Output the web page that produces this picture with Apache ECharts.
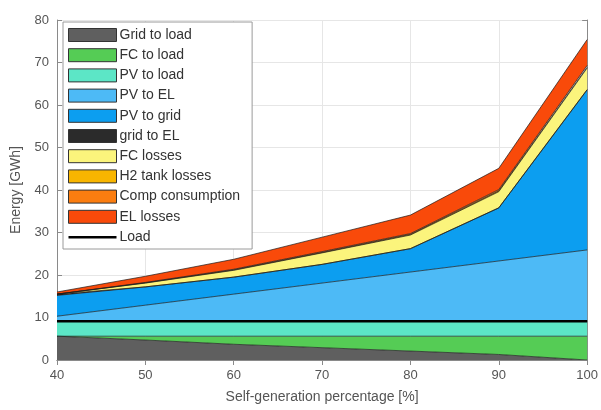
<!DOCTYPE html>
<html>
<head>
<meta charset="utf-8">
<script src="https://cdn.jsdelivr.net/npm/echarts@6/dist/echarts.min.js"></script>
<style>html,body{margin:0;padding:0;background:#fff}#c{width:601px;height:410px}</style>
</head>
<body>
<div id="c"></div>
<script>
const xValues = ['40', '50', '60', '70', '80', '90', '100'];
const gridToLoad   = [5.6, 4.7, 3.7, 2.9, 2.1, 1.3, 0.0];
const fcToLoad     = [0.0, 0.9, 1.9, 2.7, 3.5, 4.3, 5.6];
const pvToLoad     = [3.5, 3.5, 3.5, 3.5, 3.5, 3.5, 3.5];
const pvToEL       = [1.2, 3.8, 6.4, 9.0, 11.6, 14.2, 16.8];
const pvToGrid     = [4.9, 4.3, 4.0, 4.4, 5.5, 12.5, 37.7];
const gridToEL     = [0.3, 0.0, 0.0, 0.0, 0.0, 0.0, 0.0];
const fcLosses     = [0.0, 0.9, 1.6, 2.7, 3.2, 3.8, 5.1];
const h2TankLosses = [0.0, 0.05, 0.1, 0.1, 0.15, 0.2, 0.2];
const compConsumption = [0.0, 0.1, 0.15, 0.2, 0.2, 0.3, 0.4];
const elLosses     = [0.5, 1.45, 2.35, 3.4, 4.35, 5.0, 6.1];
const load         = [9.1, 9.1, 9.1, 9.1, 9.1, 9.1, 9.1];
const yTicks = [0, 10, 20, 30, 40, 50, 60, 70, 80];

const areaDefs = [
  ['Grid to load', gridToLoad, '#5f5f5f'],
  ['FC to load', fcToLoad, '#55cc55'],
  ['PV to load', pvToLoad, '#5ce6c6'],
  ['PV to EL', pvToEL, '#4dbaf6'],
  ['PV to grid', pvToGrid, '#0c9ef0'],
  ['grid to EL', gridToEL, '#2b2b2b'],
  ['FC losses', fcLosses, '#fbf47c'],
  ['H2 tank losses', h2TankLosses, '#f8b500'],
  ['Comp consumption', compConsumption, '#fb7d10'],
  ['EL losses', elLosses, '#f94a0a']
];

const series = areaDefs.map(([name, arr, color]) => ({
  name, type: 'line', stack: 'e', data: arr,
  symbol: 'none', color,
  lineStyle: { color: '#1b1b1b', width: 0.7 },
  areaStyle: { color, opacity: 1 },
  itemStyle: { color }
}));
series.push({
  name: 'Load', type: 'line', data: load, symbol: 'none',
  color: '#000', lineStyle: { color: '#000', width: 2.5 }, itemStyle: { color: '#000' }, z: 10
});

const legendData = areaDefs.map(([name]) => ({
  name, icon: 'rect', itemStyle: { borderColor: '#333', borderWidth: 1 }
}));
legendData.push({
  name: 'Load',
  icon: 'path://M0,0 L0,0 M0,5.5 L48,5.5 L48,8 L0,8 Z M48,13 L48,13',
  itemStyle: { color: '#000', borderWidth: 0 }
});

const axisCommon = {
  axisLine: { show: true, lineStyle: { color: '#8a8a8a', width: 1 } },
  axisTick: { show: true, inside: true, length: 5, lineStyle: { color: '#8a8a8a' } },
};
const chart = echarts.init(document.getElementById('c'), null, { renderer: 'canvas' });
chart.setOption({
  animation: false,
  backgroundColor: '#fff',
  grid: { left: 57, right: 13, top: 20, bottom: 50 },
  xAxis: [
    Object.assign({
      type: 'category', data: xValues, boundaryGap: false,
      name: 'Self-generation percentage [%]', nameLocation: 'middle', nameGap: 30,
      nameTextStyle: { color: '#555', fontSize: 14, fontFamily: 'Liberation Sans' },
      axisLabel: { color: '#555', fontSize: 13, fontFamily: 'Liberation Sans', margin: 9 },
      splitLine: { show: true, lineStyle: { color: '#e6e6e6' } }
    }, axisCommon),
    Object.assign({
      type: 'category', data: xValues, boundaryGap: false, position: 'top',
      axisLabel: { show: false }, splitLine: { show: false }
    }, axisCommon)
  ],
  yAxis: [
    Object.assign({
      type: 'value', min: yTicks[0], max: yTicks[yTicks.length - 1], interval: 10,
      name: 'Energy [GWh]', nameLocation: 'middle', nameGap: 34,
      nameTextStyle: { color: '#555', fontSize: 14, fontFamily: 'Liberation Sans' },
      axisLabel: { color: '#555', fontSize: 13, fontFamily: 'Liberation Sans', margin: 8 },
      splitLine: { show: true, lineStyle: { color: '#e6e6e6' } }
    }, axisCommon),
    Object.assign({
      type: 'value', position: 'right', min: 0, max: 80, interval: 10,
      axisLabel: { show: false }, splitLine: { show: false }
    }, axisCommon)
  ],
  legend: {
    orient: 'vertical', left: 63, top: 22,
    data: legendData,
    itemWidth: 48, itemHeight: 13, itemGap: 6.2,
    padding: [6, 12, 5, 5],
    backgroundColor: '#fff', borderColor: '#9a9a9a', borderWidth: 1,
    textStyle: { color: '#333', fontSize: 14, fontFamily: 'Liberation Sans', padding: [0, 0, 0, -2] },
    z: 20
  },
  series
});
</script>
</body>
</html>
